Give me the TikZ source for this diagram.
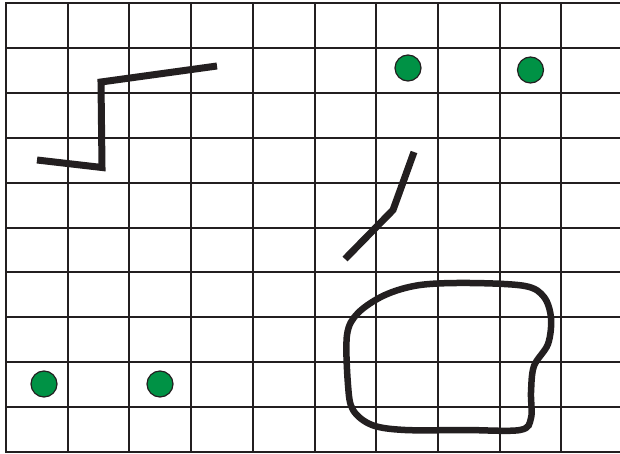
\documentclass[tikz,border=0pt]{standalone}
\begin{document}
\begin{tikzpicture}[x=1pt,y=-1pt,
  gridline/.style={line width=2pt, draw=ink},
  stroke/.style={line width=7pt, draw=ink, line join=miter},
  dot/.style={circle, fill=dotgreen, draw=ink, line width=1.2pt, minimum size=26pt, inner sep=0pt}]
\definecolor{ink}{HTML}{231F20}
\definecolor{dotgreen}{HTML}{009245}
\useasboundingbox (0,0) rectangle (620,454);
% grid
\foreach \x in {6,67.7,129.4,191.1,252.8,314.5,376.2,437.9,499.6,561.3} {
  \draw[gridline] (\x,3.3) -- (\x,451.7);
}
\foreach \y in {3.3,48.1,93,137.8,182.7,227.5,272.3,317.2,362,406.9,451.7} {
  \draw[gridline] (5,\y) -- (620,\y);
}
% Z-shaped line
\coordinate (z1) at (37,160);
\coordinate (z2) at (102,167.5);
\coordinate (z3) at (101,82);
\coordinate (z4) at (217,66);
\draw[stroke] (z1) -- (z2) -- (z3) -- (z4);
% bent line
\coordinate (b1) at (345,259);
\coordinate (b2) at (393,210);
\coordinate (b3) at (414,152);
\draw[stroke] (b1) -- (b2) -- (b3);
% blob
\draw[line width=6.5pt, draw=ink] plot[smooth cycle, tension=0.55] coordinates {
  (347,335) (348,385) (353,410) (372,425) (405,430) (465,430) (520,430)
  (531,418) (531,392) (534,366) (548,344) (551,318) (544,297) (525,286)
  (470,283) (420,285) (385,295) (358,313)};
% dots
\node[dot] (d1) at (408,68) {};
\node[dot] (d2) at (530.5,70) {};
\node[dot] (d3) at (44,384) {};
\node[dot] (d4) at (160,384) {};
\end{tikzpicture}
\end{document}
